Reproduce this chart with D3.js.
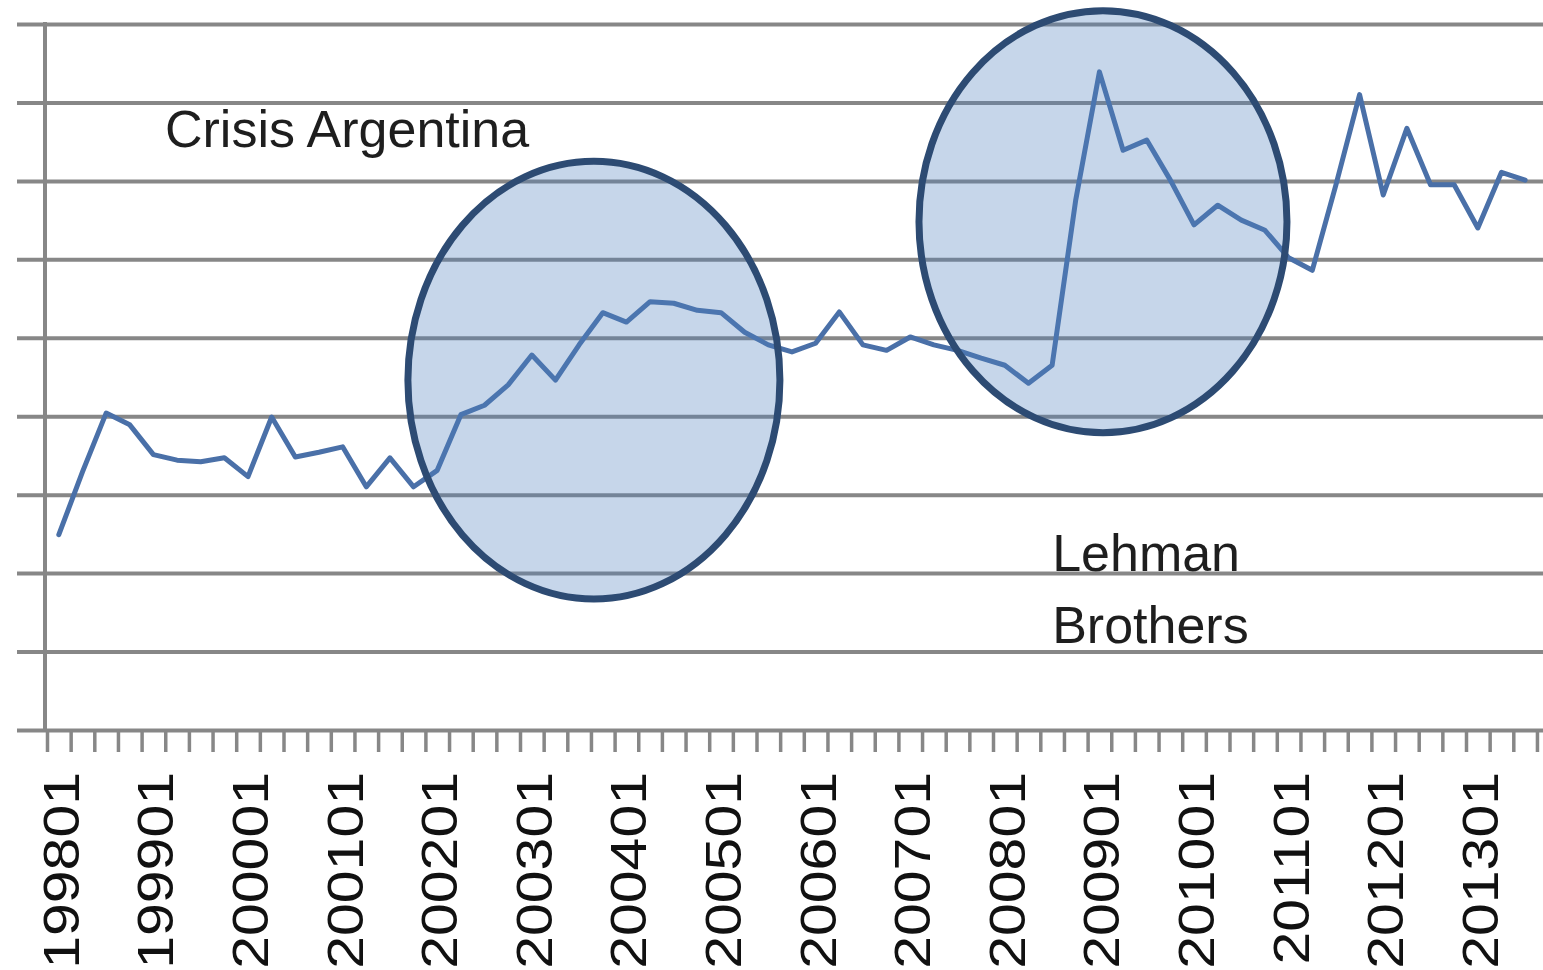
<!DOCTYPE html>
<html>
<head>
<meta charset="utf-8">
<script src="https://cdn.jsdelivr.net/npm/d3@7"></script>
<style>
  html, body { margin: 0; padding: 0; background: #ffffff; overflow: hidden; }
  svg { display: block; }
</style>
</head>
<body>
<svg id="chart" width="1543" height="970"></svg>
<script>
// Quarterly periods, coded YYYY0Q
const categories = [
  "199801","199802","199803","199804","199901","199902","199903","199904",
  "200001","200002","200003","200004","200101","200102","200103","200104",
  "200201","200202","200203","200204","200301","200302","200303","200304",
  "200401","200402","200403","200404","200501","200502","200503","200504",
  "200601","200602","200603","200604","200701","200702","200703","200704",
  "200801","200802","200803","200804","200901","200902","200903","200904",
  "201001","201002","201003","201004","201101","201102","201103","201104",
  "201201","201202","201203","201204","201301","201302","201303","201304"
];

// Series values, one per quarter (series ends in 2013 Q3)
const values = [
  24.9, 32.9, 40.4, 38.9, 35.1, 34.4, 34.2, 34.7,
  32.3, 39.9, 34.8, 35.4, 36.1, 31.0, 34.7, 31.0,
  33.1, 40.2, 41.4, 44.0, 47.8, 44.6, 49.1, 53.2,
  52.0, 54.6, 54.4, 53.5, 53.2, 50.7, 49.1, 48.2,
  49.3, 53.3, 49.1, 48.4, 50.1, 49.1, 48.4, 47.4,
  46.5, 44.2, 46.5, 67.6, 83.9, 73.9, 75.2, 70.1,
  64.4, 66.9, 65.0, 63.7, 60.2, 58.6, 69.5, 81.0,
  68.2, 76.7, 69.5, 69.5, 64.0, 71.1, 70.1
];

// Axis ticks
const yTicks = [0, 10, 20, 30, 40, 50, 60, 70, 80, 90];
const tickLabels = ["199801","199901","200001","200101","200201","200301","200401","200501",
                    "200601","200701","200801","200901","201001","201101","201201","201301"];

// Highlighted periods: quarter-index span and value span of each ellipse
const highlights = [
  { name: "argentina", from: 15.26, to: 30.99, lo: 16.7, hi: 72.5 },
  { name: "lehman",    from: 36.87, to: 52.43, lo: 37.9, hi: 91.7 }
];

// Annotation texts, anchored at a quarter index and a value
const notes = [
  { text: "Crisis Argentina", q: 4.99,  v: 74.3 },
  { text: "Lehman",           q: 42.5,  v: 20.3 },
  { text: "Brothers",         q: 42.5,  v: 11.1 }
];

const W = 1543;
const left = 47, step = 23.65, axisX = 45;
const svg = d3.select("#chart");

const x = d3.scaleBand()
  .domain(categories)
  .range([left, left + step * categories.length])
  .padding(0);
// continuous position along the category axis (in quarters)
const xq = d3.scaleLinear().domain([0, categories.length]).range(x.range());
const y = d3.scaleLinear().domain([0, 90]).range([730, 24]);

const gridColor = "#878787";

// Horizontal gridlines with outside tick marks
const gridG = svg.append("g")
  .attr("transform", `translate(${axisX},0)`)
  .call(d3.axisLeft(y).tickValues(yTicks).tickFormat("")
        .tickSizeInner(-(W + 40 - axisX)).tickSizeOuter(0));
gridG.select(".domain").remove();
gridG.selectAll(".tick line")
  .attr("x1", -28)
  .attr("stroke", gridColor)
  .attr("stroke-width", 4);

// Vertical axis line
svg.append("line")
  .attr("x1", axisX).attr("x2", axisX)
  .attr("y1", y(90) - 2).attr("y2", y(0))
  .attr("stroke", gridColor).attr("stroke-width", 4);

// Category axis tick marks at quarter boundaries
const tickG = svg.append("g")
  .attr("transform", `translate(0,${y(0)})`)
  .call(d3.axisBottom(xq).tickValues(d3.range(0, categories.length + 1))
        .tickFormat("").tickSizeInner(22).tickSizeOuter(0));
tickG.select(".domain").remove();
tickG.selectAll(".tick line")
  .attr("stroke", gridColor)
  .attr("stroke-width", 3.5);

// Rotated year labels
const labelG = svg.append("g")
  .attr("transform", `translate(0,${y(0)})`)
  .call(d3.axisBottom(x).tickValues(tickLabels).tickSize(0));
labelG.select(".domain").remove();
labelG.selectAll(".tick text")
  .attr("x", -42)
  .attr("y", 20)
  .attr("dy", 0)
  .attr("transform", "rotate(-90) scale(1.18,1)")
  .style("text-anchor", "end")
  .style("font-family", "'Liberation Sans', Arial, sans-serif")
  .style("font-size", "50px")
  .style("fill", "#111");
// scale() also shifts x, so compensate the anchor
labelG.selectAll(".tick text").attr("x", -42 / 1.18);

// Series line
const line = d3.line()
  .x((d, i) => x(categories[i]) + x.bandwidth() / 2)
  .y(d => y(d))
  .curve(d3.curveLinear);

svg.append("path")
  .datum(values)
  .attr("d", line)
  .attr("fill", "none")
  .attr("stroke", "#4a70a8")
  .attr("stroke-width", 5)
  .attr("stroke-linejoin", "round")
  .attr("stroke-linecap", "round");

// Highlight ellipses
svg.selectAll("ellipse.hl")
  .data(highlights)
  .join("ellipse")
  .attr("class", "hl")
  .attr("cx", d => (xq(d.from) + xq(d.to)) / 2)
  .attr("cy", d => (y(d.lo) + y(d.hi)) / 2)
  .attr("rx", d => (xq(d.to) - xq(d.from)) / 2)
  .attr("ry", d => (y(d.lo) - y(d.hi)) / 2)
  .attr("fill", "#4f81bd")
  .attr("fill-opacity", 0.32)
  .attr("stroke", "#2d4b73")
  .attr("stroke-width", 7);

// Annotation texts
svg.selectAll("text.note")
  .data(notes)
  .join("text")
  .attr("class", "note")
  .attr("x", d => xq(d.q))
  .attr("y", d => y(d.v))
  .text(d => d.text)
  .style("font-family", "'Liberation Sans', Arial, sans-serif")
  .style("font-size", "52px")
  .style("fill", "#1e1e1e");
</script>
</body>
</html>
